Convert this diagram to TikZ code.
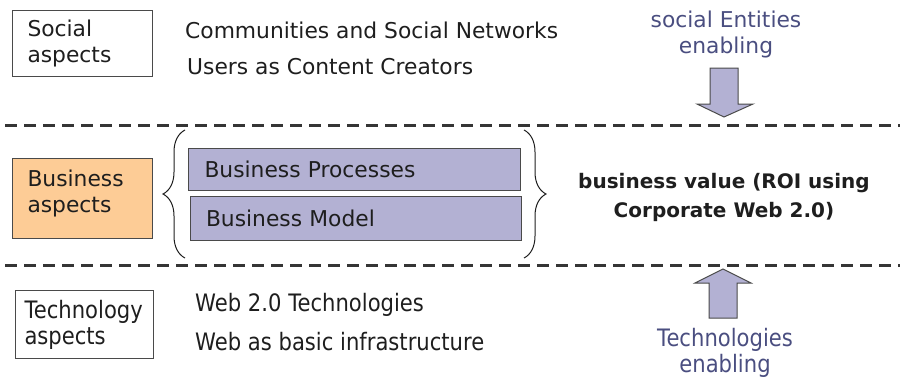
\documentclass[tikz,border=0pt]{standalone}
\usepackage{fontspec}
\setmainfont{DejaVu Sans}
\newfontfamily\condfont[FakeStretch=0.88]{DejaVu Sans}
\usetikzlibrary{decorations.pathreplacing}
\definecolor{txt}{HTML}{1E1E1E}
\definecolor{bluetxt}{HTML}{4A4E80}
\definecolor{lav}{HTML}{B3B1D3}
\definecolor{orng}{HTML}{FDCC96}
\definecolor{edge}{HTML}{4A4A4A}
\begin{document}
\begin{tikzpicture}[x=1pt,y=-1pt,
  every node/.style={text=txt, font=\fontsize{21.8}{26}\selectfont},
  aspectbox/.style={draw=edge, line width=1pt, anchor=north west, inner xsep=15pt, align=left},
  lavbox/.style={draw=edge, fill=lav, line width=1pt, anchor=north west, inner xsep=14pt, align=left},
  plain/.style={anchor=west, inner sep=0pt},
  bluelab/.style={text=bluetxt, align=center, inner sep=0pt},
  dashline/.style={line width=3pt, dash pattern=on 12pt off 7pt, color=txt!90},
  blockarrow/.style={draw=edge, fill=lav, line width=1pt},
  bracestyle/.style={draw=txt, line width=1pt, decorate, decoration={brace, amplitude=22pt}}]
\useasboundingbox (0,0) rectangle (902,378);

% dashed separators
\coordinate (d1a) at (5,125); \coordinate (d1b) at (900,125);
\coordinate (d2a) at (5,265); \coordinate (d2b) at (900,265);
\draw[dashline] (d1a) -- (d1b);
\draw[dashline] (d2a) -- (d2b);

% social row
\node[aspectbox, minimum width=140pt, minimum height=66pt, text width=110pt] (soc) at (12,10) {Social\\aspects};
\node[plain] (comm) at (185,30) {Communities and Social Networks};
\node[plain] (users) at (187,67) {Users as Content Creators};
\node[bluelab] (sent) at (726,34) {social Entities\\enabling};
\coordinate (sa1) at (710,68); \coordinate (sa2) at (738,68);
\coordinate (sa3) at (738,104); \coordinate (sa4) at (753,104);
\coordinate (sa5) at (724,117); \coordinate (sa6) at (697,104);
\coordinate (sa7) at (710,104);
\draw[blockarrow] (sa1) -- (sa2) -- (sa3) -- (sa4) -- (sa5) -- (sa6) -- (sa7) -- cycle;

% business row
\node[aspectbox, fill=orng, minimum width=140pt, minimum height=80pt, text width=110pt] (bus) at (12,158) {Business\\aspects\\[-12pt]\mbox{}};
\node[lavbox, minimum width=332pt, minimum height=42pt, text width=300pt] (bp) at (188,148) {Business Processes};
\node[lavbox, minimum width=331pt, minimum height=44pt, text width=300pt] (bm) at (190,196) {Business Model};
\coordinate (lb1) at (185,258); \coordinate (lb2) at (185,130);
\coordinate (rb1) at (524,130); \coordinate (rb2) at (524,258);
\draw[bracestyle] (lb1) -- (lb2);
\draw[bracestyle] (rb1) -- (rb2);
\node[align=center, inner sep=0pt, font=\fontsize{20}{29}\selectfont\bfseries] (bv) at (724,197) {business value (ROI using\\Corporate Web 2.0)};

% technology row
\node[aspectbox, minimum width=138pt, minimum height=68pt, text width=120pt, inner xsep=7pt, font=\condfont\fontsize{24}{26}\selectfont] (tech) at (15,290) {Technology\\aspects};
\node[plain, font=\condfont\fontsize{24}{26}\selectfont] (w20) at (195,305) {Web 2.0 Technologies};
\node[plain, font=\condfont\fontsize{24}{26}\selectfont] (wbi) at (195,342) {Web as basic infrastructure};
\coordinate (ta1) at (709,318); \coordinate (ta2) at (737,318);
\coordinate (ta3) at (737,283); \coordinate (ta4) at (751,283);
\coordinate (ta5) at (723,269); \coordinate (ta6) at (695,283);
\coordinate (ta7) at (709,283);
\draw[blockarrow] (ta1) -- (ta2) -- (ta3) -- (ta4) -- (ta5) -- (ta6) -- (ta7) -- cycle;
\node[bluelab, font=\condfont\fontsize{24}{26}\selectfont] (tent) at (725,353) {Technologies\\enabling};
\end{tikzpicture}
\end{document}
